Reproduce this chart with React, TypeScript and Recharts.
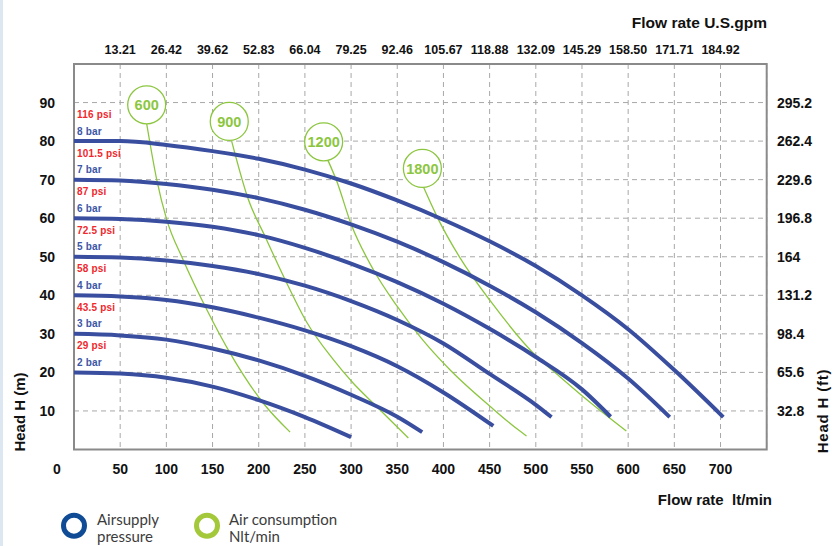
import React from 'react';
import {
  ComposedChart,
  Line,
  XAxis,
  YAxis,
  CartesianGrid,
  ReferenceDot,
  ReferenceArea,
  LabelList,
} from 'recharts';

// axis ticks
const ltTicks = [0, 50, 100, 150, 200, 250, 300, 350, 400, 450, 500, 550, 600, 650, 700];
const gpmTicks = [13.21, 26.42, 39.62, 52.83, 66.04, 79.25, 92.46, 105.67, 118.88, 132.09, 145.29, 158.5, 171.71, 184.92];
const mTicks = [10, 20, 30, 40, 50, 60, 70, 80, 90];
const ftTicks = [32.8, 65.6, 98.4, 131.2, 164, 196.8, 229.6, 262.4, 295.2];

// air supply pressure curves (flow lt/min, head m)
const bar2Flow = [0, 50, 100, 150, 200, 250, 300];
const bar2Head = [20, 19.7, 18.6, 16.3, 12.8, 8.4, 3.2];
const bar3Flow = [0, 50, 100, 150, 200, 250, 300, 350, 377];
const bar3Head = [30, 29.6, 28.5, 26.2, 23.1, 19.1, 14.2, 8.5, 4.5];
const bar4Flow = [0, 50, 100, 150, 200, 250, 300, 350, 400, 454];
const bar4Head = [40, 39.7, 38.8, 36.9, 34.2, 30.9, 26.8, 21.6, 14.8, 6.1];
const bar5Flow = [0, 50, 100, 150, 200, 250, 300, 350, 400, 450, 500, 517];
const bar5Head = [50, 49.8, 49, 47.6, 45.5, 42.5, 38.5, 33.6, 27.5, 19.6, 11.6, 8.4];
const bar6Flow = [0, 50, 100, 150, 200, 250, 300, 350, 400, 450, 500, 550, 581];
const bar6Head = [60, 59.8, 59.1, 57.8, 55.6, 52.3, 48.2, 43.4, 37.8, 31.3, 24, 15.6, 8.5];
const bar7Flow = [0, 50, 100, 150, 200, 250, 300, 350, 400, 450, 500, 550, 600, 645];
const bar7Head = [70, 69.8, 68.9, 67.4, 65.2, 62.2, 58.4, 53.9, 48.6, 42.5, 35.6, 27.6, 18.4, 8.4];
const bar8Flow = [0, 50, 100, 150, 200, 250, 300, 350, 400, 450, 500, 550, 600, 650, 703];
const bar8Head = [80, 80, 79, 77.4, 75.4, 72.6, 69, 64.6, 59.6, 54, 47.6, 40, 31.2, 20.6, 8.4];

const barLabels = ['2 bar', '3 bar', '4 bar', '5 bar', '6 bar', '7 bar', '8 bar'];
const psiLabels = ['29 psi', '43.5 psi', '58 psi', '72.5 psi', '87 psi', '101.5 psi', '116 psi'];

// air consumption curves (Nlt/min)
const air600Flow = [78.7, 89.5, 100.3, 118, 143.7, 169, 205, 234];
const air600Head = [84.5, 70.1, 59.7, 49.3, 36.3, 25, 12, 4.5];
const air900Flow = [170.7, 188.7, 206.8, 230.3, 252, 280.8, 302.4, 324, 362];
const air900Head = [80, 64.9, 55.3, 43.2, 33, 23.3, 17.2, 12, 3];
const air1200Flow = [275, 284.3, 300.6, 324, 349.4, 374.6, 407, 451, 481, 490];
const air1200Head = [75, 69.7, 58.1, 46.7, 37.3, 29.3, 20.7, 11.1, 5.1, 3.5];
const air1800Flow = [378.5, 394.5, 418, 451.2, 501, 526, 551.4, 598];
const air1800Head = [68, 59.7, 49.7, 38.4, 24.1, 18.9, 13.7, 4.8];

const bubbleLabels = ['600', '900', '1200', '1800'];
const bubbleFlow = [78.7, 168.1, 270.3, 377.2];
const bubbleHead = [89.4, 85.1, 79.8, 72.9];

const toPoints = (flow: number[], head: number[]) => flow.map((f, i) => ({ flow: f, head: head[i] }));

const pressureCurves = [
  toPoints(bar2Flow, bar2Head),
  toPoints(bar3Flow, bar3Head),
  toPoints(bar4Flow, bar4Head),
  toPoints(bar5Flow, bar5Head),
  toPoints(bar6Flow, bar6Head),
  toPoints(bar7Flow, bar7Head),
  toPoints(bar8Flow, bar8Head),
];
const airCurves = [
  toPoints(air600Flow, air600Head),
  toPoints(air900Flow, air900Head),
  toPoints(air1200Flow, air1200Head),
  toPoints(air1800Flow, air1800Head),
];

const FONT = '"Liberation Sans", Arial, sans-serif';
const BLUE = '#3a4ea0';
const GREEN = '#8cc63f';

const BottomTick = (p: any) => {
  const v = p.payload.value;
  return (
    <text x={v === 0 ? p.x - 17 : p.x} y={474} textAnchor="middle" fontFamily={FONT}
      fontSize={v === 500 ? 15 : 14} fontWeight="bold" fill="#111">{v}</text>
  );
};
// top axis shares the lt/min scale; labels are the U.S.gpm equivalents
const TopTick = (p: any) => (
  <text x={p.x} y={53.5} textAnchor="middle" fontFamily={FONT} fontSize={12.5} fontWeight="bold" fill="#111">
    {gpmTicks[ltTicks.indexOf(p.payload.value) - 1].toFixed(2)}
  </text>
);
const LeftTick = (p: any) => (
  <text x={55} y={p.y + 5} textAnchor="end" fontFamily={FONT} fontSize={14} fontWeight="bold" fill="#111">
    {p.payload.value}
  </text>
);
const RightTick = (p: any) => (
  <text x={777} y={p.y + 5} textAnchor="start" fontFamily={FONT} fontSize={14} fontWeight="bold" fill="#111">
    {p.payload.value}
  </text>
);

const pressureLabel = (i: number) => (p: any) => {
  if (p.index !== 0) return null;
  return (
    <g fontFamily={FONT} fontSize={10} fontWeight="bold" letterSpacing={0.2}>
      <text x={p.x + 3} y={p.y - 23} fill="#f0282d">{psiLabels[i]}</text>
      <text x={p.x + 3} y={p.y - 6.5} fill="#3c56a6">{barLabels[i]}</text>
    </g>
  );
};

const App = () => {
  return (
    <div style={{ position: 'absolute', left: 0, top: 0, width: 833, height: 546, background: '#fff' }}>
      <div style={{ position: 'absolute', left: 0, top: 0, width: 3, height: 546, background: '#dde7f1' }} />
      <ComposedChart width={833} height={546} margin={{ top: 0, right: 0, bottom: 0, left: 0 }}>
        <XAxis xAxisId="lt" dataKey="flow" type="number" domain={[0, 750]} ticks={ltTicks} interval={0}
          height={96.5} tickLine={false} axisLine={false} tick={<BottomTick />} allowDataOverflow />
        <XAxis xAxisId="gpm" dataKey="flow" orientation="top" type="number" domain={[0, 750]}
          ticks={ltTicks.slice(1)} interval={0} height={64} tickLine={false} axisLine={false}
          tick={<TopTick />} allowDataOverflow />
        <YAxis yAxisId="m" dataKey="head" type="number" domain={[0, 100]} ticks={mTicks} interval={0}
          width={74} tickLine={false} axisLine={false} tick={<LeftTick />} allowDataOverflow />
        <YAxis yAxisId="ft" orientation="right" type="number" domain={[0, 328]} ticks={ftTicks} interval={0}
          width={66.3} tickLine={false} axisLine={false} tick={<RightTick />} allowDataOverflow />
        <CartesianGrid xAxisId="lt" yAxisId="m" stroke="#a8a8a8" strokeDasharray="5 4" strokeWidth={1} />
        <ReferenceArea xAxisId="lt" yAxisId="m" x1={0} x2={750} y1={0} y2={100} fill="none"
          stroke="#8a8a8a" strokeWidth={2} ifOverflow="visible" />
        {airCurves.map((pts, i) => (
          <Line key={'air' + i} xAxisId="lt" yAxisId="m" data={pts} dataKey="head" type="monotone"
            stroke={GREEN} strokeWidth={1.3} dot={false} activeDot={false} isAnimationActive={false} />
        ))}
        {pressureCurves.map((pts, i) => (
          <Line key={'bar' + i} xAxisId={i === 6 ? 'gpm' : 'lt'} yAxisId="m" data={pts} dataKey="head"
            type="monotone" stroke={BLUE} strokeWidth={4} dot={false} activeDot={false}
            isAnimationActive={false}>
            <LabelList dataKey="head" content={pressureLabel(i)} />
          </Line>
        ))}
        {bubbleLabels.map((lbl, i) => (
          <ReferenceDot key={'b' + i} xAxisId="lt" yAxisId="m" x={bubbleFlow[i]} y={bubbleHead[i]} r={19}
            fill="#fff" stroke={GREEN} strokeWidth={1.3} ifOverflow="visible"
            label={{ value: lbl, position: 'center', fill: GREEN, fontSize: 14.5, fontWeight: 'bold', fontFamily: FONT }} />
        ))}
      </ComposedChart>
      <svg width={833} height={546} style={{ position: 'absolute', left: 0, top: 0, pointerEvents: 'none' }}>
        <text x={767} y={27.5} textAnchor="end" fontFamily={FONT} fontSize={15.5} fontWeight="bold" fill="#111">
          Flow rate U.S.gpm
        </text>
        <text x={772} y={504.5} textAnchor="end" fontFamily={FONT} fontSize={15} fontWeight="bold" fill="#111">
          {'Flow rate\u00a0\u00a0lt/min'}
        </text>
        <text transform="translate(24.5,412) rotate(-90)" textAnchor="middle" fontFamily={FONT} fontSize={15}
          fontWeight="bold" fill="#111">Head H (m)</text>
        <text transform="translate(827.5,411) rotate(-90)" textAnchor="middle" fontFamily={FONT} fontSize={15}
          fontWeight="bold" letterSpacing={0.8} fill="#111">Head H (ft)</text>
        <g fontFamily="Lato, sans-serif" fontSize={15} fill="#3c3c3c">
          <circle cx={74} cy={525.7} r={10.5} fill="none" stroke="#0f4c95" strokeWidth={5} />
          <text x={97} y={524.5}>Airsupply</text>
          <text x={97} y={542}>pressure</text>
          <circle cx={207} cy={525.7} r={10.5} fill="none" stroke="#a3c83a" strokeWidth={5} />
          <text x={229} y={524.5}>Air consumption</text>
          <text x={229} y={542}>Nlt/min</text>
        </g>
      </svg>
    </div>
  );
};

export default App;
